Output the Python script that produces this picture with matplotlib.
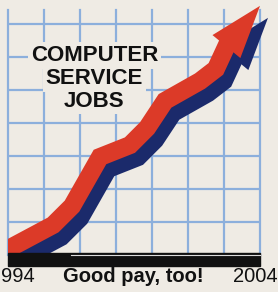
import numpy as np
import matplotlib
matplotlib.use("Agg")
import matplotlib.pyplot as plt
import matplotlib.transforms as mtransforms
from matplotlib.patches import Rectangle

# growth line (index units, one grid square = 1)
years = [1994.0, 1995.79, 1996.54, 1997.65, 1998.84, 1999.52, 2000.23, 2001.62, 2002.25, 2002.65]
jobs = [0.18, 0.91, 1.48, 2.97, 3.33, 3.85, 4.67, 5.27, 5.64, 6.30]
tip_year, tip_jobs = 2004.0, 7.55

title_lines = ["COMPUTER", "SERVICE", "JOBS"]
start_label, end_label = "994", "2004"   # the first year is cropped in the original
caption = "Good pay, too!"

BG = "#efebe4"
GRID = "#8cafdc"
RED = "#dc3a28"
NAVY = "#1b2a6b"

plt.rcParams['font.family'] = ['Liberation Sans', 'DejaVu Sans']

fig = plt.figure(figsize=(2.78, 2.92), dpi=100, facecolor=BG)
ax = fig.add_axes([8 / 278, 37 / 292, 252 / 278, 245 / 292])
ax.set_facecolor(BG)
ax.set_xlim(1994, 2004)
ax.set_ylim(0, 245 / 33)
for s in ax.spines.values():
    s.set_visible(False)

ax.set_xticks(np.linspace(1994, 2004, 8))
ax.set_yticks(np.arange(1, 8))
ax.tick_params(length=0, labelbottom=False, labelleft=False)
ax.grid(True, color=GRID, lw=1.6)
ax.set_axisbelow(True)
for gl in ax.get_xgridlines():
    gl.set_clip_on(False)

# title knocked out of the grid
for i, t in enumerate(title_lines):
    ax.text(0.343, 0.814 - i * 0.093, t, transform=ax.transAxes, ha='center', va='center',
            fontsize=16, fontweight='bold', color='#111111', zorder=2,
            bbox=dict(boxstyle='square,pad=0.12', fc=BG, ec='none'))

# clip: open to the top and right, closed at baseline and left edge
def clip_box():
    return Rectangle((0, 0), 1.2, 1.2, transform=ax.transAxes, fc='none', ec='none')

shadow = mtransforms.offset_copy(ax.transData, fig=fig, x=8, y=-12, units='dots')

for tr, col, z in [(shadow, NAVY, 3), (ax.transData, RED, 4)]:
    ln, = ax.plot(years, jobs, color=col, lw=13, transform=tr, zorder=z,
                  solid_joinstyle='miter', solid_capstyle='projecting')
    ln.set_clip_path(clip_box())
    ax.annotate('', xy=(tip_year, tip_jobs), xytext=(years[-1], jobs[-1]),
                xycoords=tr, textcoords=tr, zorder=z, annotation_clip=False,
                arrowprops=dict(arrowstyle='-|>,head_length=3.8,head_width=1.3',
                                fc=col, ec=col, lw=0, shrinkA=0, shrinkB=0,
                                mutation_scale=10))

# black baseline with thin light rule
ax.axhspan(-11 / 33, 2 / 33, color='#111111', zorder=6, clip_on=False)
ax.plot([1996.5, 2004], [0, 0], color='#dcdcdc', lw=0.8, zorder=7, clip_on=False)

ty = 1 - 277 / 292
fig.text(0.5 / 278, ty, start_label, ha='left', va='center', fontsize=14.5, color='#111111')
fig.text(133.5 / 278, ty, caption, ha='center', va='center', fontsize=14.5,
         fontweight='bold', color='#111111')
fig.text(277.5 / 278, ty, end_label, ha='right', va='center', fontsize=14.5, color='#111111')

fig.savefig("out.png", dpi=100, facecolor=BG)
